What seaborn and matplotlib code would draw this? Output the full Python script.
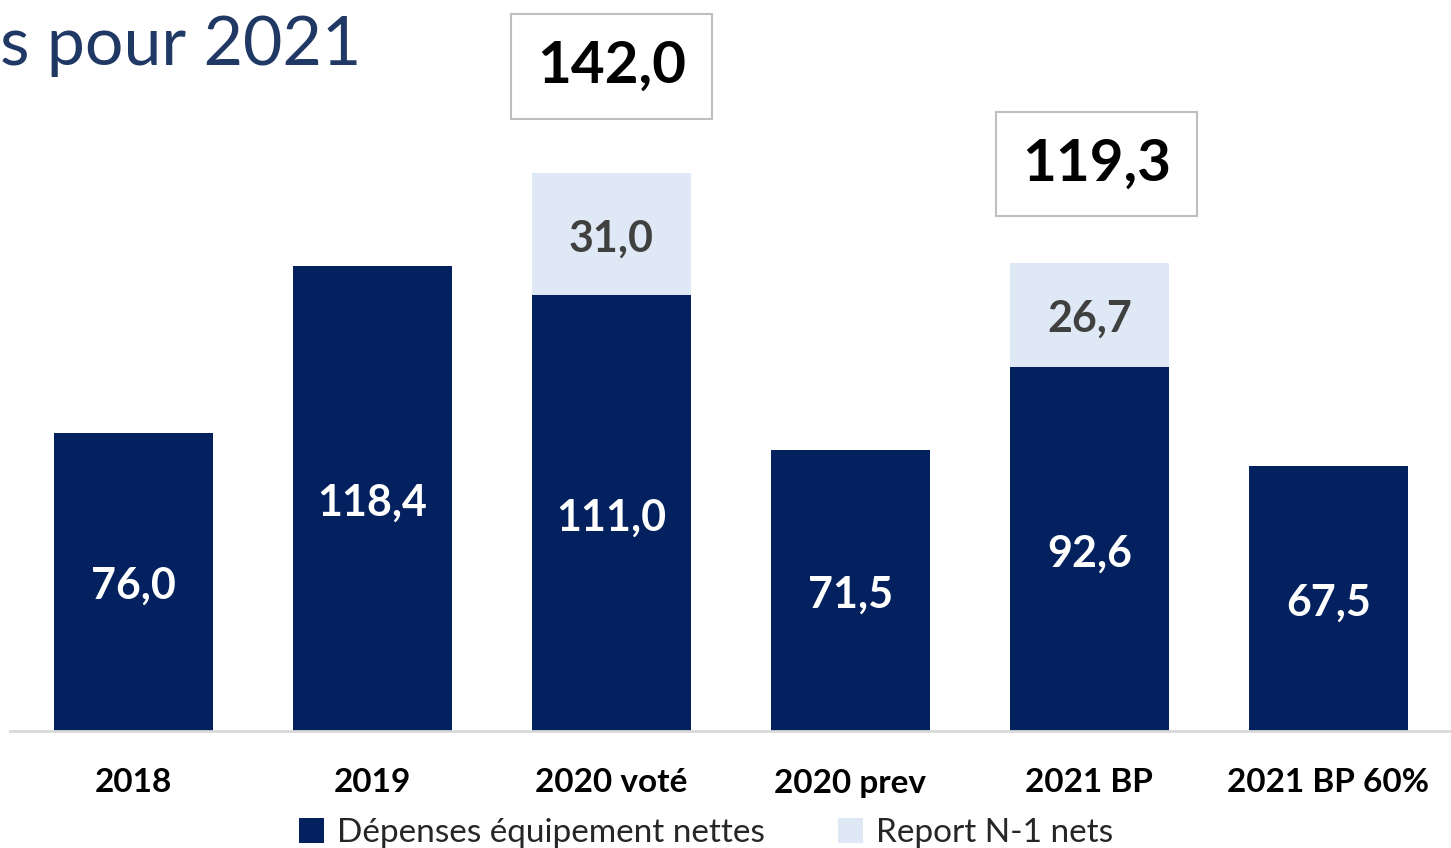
import pandas as pd
import seaborn as sns
import matplotlib.pyplot as plt
from matplotlib.patches import Patch

# values (M€)
categories = ["2018", "2019", "2020 voté", "2020 prev", "2021 BP", "2021 BP 60%"]
depenses = [76.0, 118.4, 111.0, 71.5, 92.6, 67.5]
reports = [0.0, 0.0, 31.0, 0.0, 26.7, 0.0]
legend_labels = ["Dépenses équipement nettes", "Report N-1 nets"]
title_text = "s pour 2021"

DARK = "#03215E"
LIGHT = "#DEE9F5"

df = pd.DataFrame({"cat": categories, "dep": depenses, "rep": reports})
df["total"] = df["dep"] + df["rep"]

# offset (points) of the total boxes relative to the top of the stacks
box_offsets = {2: (0, 77), 4: (5, 71)}


def fr(v):
    return f"{v:.1f}".replace(".", ",")


sns.set_theme(style="white")
plt.rcParams["font.family"] = ["Lato", "DejaVu Sans"]

fig = plt.figure(figsize=(14.51, 8.48), dpi=100)
ax = fig.add_axes([10 / 1451, 117 / 848, 1441 / 1451, 731 / 848])

# stacked look: totals in light colour, then the base series on top
sns.barplot(data=df, x="cat", y="total", color=LIGHT, saturation=1,
            width=0.665, linewidth=0, ax=ax)
sns.barplot(data=df, x="cat", y="dep", color=DARK, saturation=1,
            width=0.665, linewidth=0, ax=ax)

ax.set_xlim(-0.517, 5.513)
ax.set_ylim(0, 186.15)
ax.set_xlabel("")
ax.set_ylabel("")
ax.set_yticks([])
for s in ["top", "left", "right"]:
    ax.spines[s].set_visible(False)
ax.spines["bottom"].set_color("#D9D9D9")
ax.spines["bottom"].set_linewidth(2)
ax.tick_params(axis="x", length=0, pad=27)
for lab in ax.get_xticklabels():
    lab.set_fontsize(24)
    lab.set_fontweight("bold")
    lab.set_color("black")

for i, row in df.iterrows():
    ax.annotate(fr(row["dep"]), xy=(i, row["dep"] / 2), xytext=(0, -3),
                textcoords="offset points", ha="center", va="center",
                color="white", fontsize=31, fontweight="bold")
    if row["rep"] > 0:
        ax.annotate(fr(row["rep"]), xy=(i, row["dep"] + row["rep"] / 2),
                    xytext=(0, -3), textcoords="offset points", ha="center",
                    va="center", color="#404040", fontsize=31,
                    fontweight="bold")
        ax.annotate(fr(row["total"]), xy=(i, row["total"]),
                    xytext=box_offsets.get(i, (0, 74)),
                    textcoords="offset points", ha="center", va="center",
                    fontsize=42, fontweight="bold", color="black",
                    bbox=dict(boxstyle="square,pad=0.44", fc="white",
                              ec="#BFBFBF", lw=1.5))

fig.text(0.0, 1 - 65 / 848, title_text, ha="left", va="baseline",
         fontsize=49, color="#1F3864")

handles = [Patch(facecolor=DARK, edgecolor="none"),
           Patch(facecolor=LIGHT, edgecolor="none")]
fig.legend(handles, legend_labels, loc="center",
           bbox_to_anchor=(706 / 1451, 15 / 848), ncol=2, frameon=False,
           fontsize=24, handlelength=0.75, handleheight=0.75,
           handletextpad=0.4, columnspacing=2.2, borderpad=0)

fig.savefig("out.png", dpi=100)
